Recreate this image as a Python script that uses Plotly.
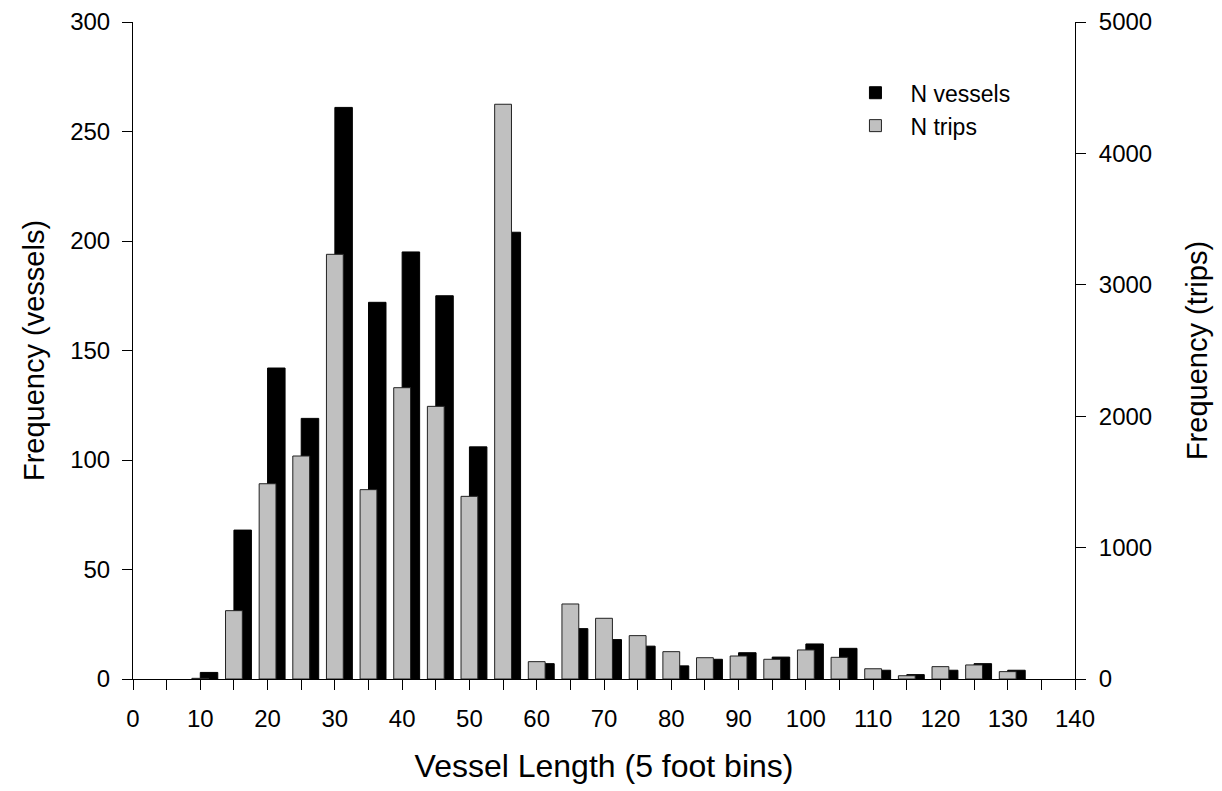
import plotly.graph_objects as go

# Bin starts (5 foot bins)
bins = [10, 15, 20, 25, 30, 35, 40, 45, 50, 55, 60, 65, 70, 75, 80, 85, 90,
        95, 100, 105, 110, 115, 120, 125, 130]
n_vessels = [3, 68, 142, 119, 261, 172, 195, 175, 106, 204, 7, 23, 18, 15, 6, 9, 12,
             10, 16, 14, 4, 2, 4, 7, 4]
n_trips = [5, 520, 1486, 1697, 3232, 1441, 2217, 2075, 1390, 4374, 132, 571, 462, 330, 208, 162, 175,
           150, 221, 165, 78, 25, 94, 107, 56]

FONT = "Liberation Sans, Arial, sans-serif"

fig = go.Figure()
fig.add_trace(go.Bar(
    x=bins, y=n_vessels, name="N vessels", yaxis="y",
    offset=0, width=2.6,
    marker=dict(color="black", line=dict(color="black", width=1)),
))
fig.add_trace(go.Bar(
    x=bins, y=n_trips, name="N trips", yaxis="y2",
    offset=-1.25, width=2.5,
    marker=dict(color="#c0c0c0", line=dict(color="#222222", width=1)),
))

# page body has an 8px margin, so the figure is sized/placed to compensate
fig.update_layout(
    width=1214, height=783,
    margin=dict(l=125, r=147, t=14, b=112, autoexpand=False),
    paper_bgcolor="white", plot_bgcolor="white",
    font=dict(family=FONT, color="black", size=24),
    barmode="overlay",
    showlegend=True,
    legend=dict(x=0.751, y=0.925, xanchor="left", yanchor="top",
                bgcolor="rgba(0,0,0,0)", font=dict(size=23),
                itemwidth=60, tracegroupgap=0),
    xaxis=dict(
        range=[0, 140], tick0=0, dtick=10, showgrid=False, zeroline=False,
        automargin=False,
        showline=True, linecolor="black", linewidth=1,
        ticks="outside", ticklen=10, tickwidth=1, tickcolor="black",
        ticklabelstandoff=8,
        minor=dict(dtick=5, ticks="outside", ticklen=10, tickwidth=1, tickcolor="black", showgrid=False),
        tickfont=dict(size=24),
        title=dict(text="Vessel Length (5 foot bins)", font=dict(size=32), standoff=23),
    ),
    yaxis=dict(
        range=[0, 300], tick0=0, dtick=50, showgrid=False, zeroline=False,
        automargin=False,
        showline=True, linecolor="black", linewidth=1,
        ticks="outside", ticklen=10, tickwidth=1, tickcolor="black",
        ticklabelstandoff=7,
        tickfont=dict(size=24),
        title=dict(text="Frequency (vessels)", font=dict(size=29), standoff=17),
    ),
    yaxis2=dict(
        range=[0, 5000], tick0=0, dtick=1000, showgrid=False, zeroline=False,
        automargin=False,
        overlaying="y", side="right",
        showline=True, linecolor="black", linewidth=1,
        ticks="outside", ticklen=10, tickwidth=1, tickcolor="black",
        ticklabelstandoff=8,
        tickfont=dict(size=24),
        title=dict(text="Frequency (trips)", font=dict(size=29), standoff=35),
    ),
)

fig.write_html("out.html")
